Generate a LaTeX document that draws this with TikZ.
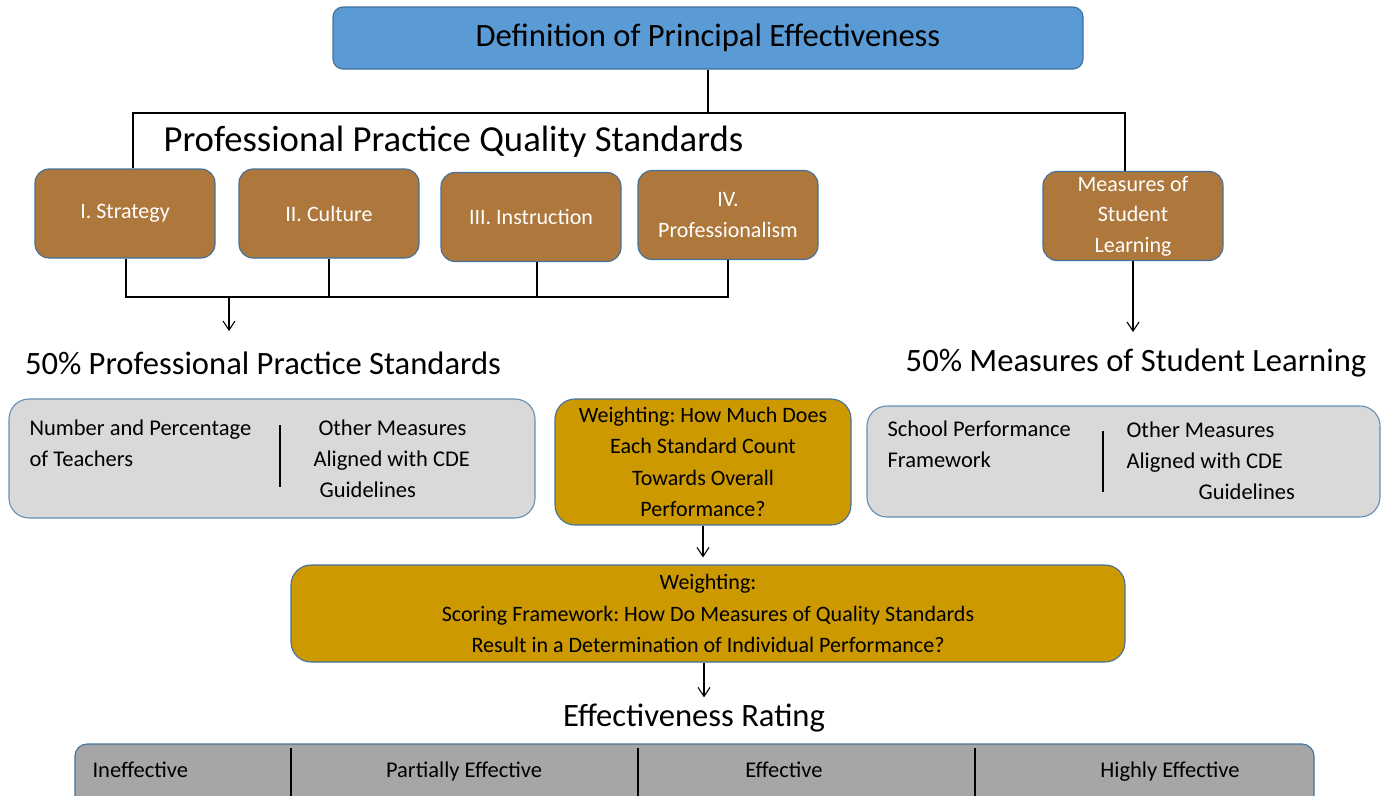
\documentclass[tikz,border=0pt]{standalone}
\usepackage{fontspec}
\setmainfont{Carlito}
\usetikzlibrary{positioning,arrows.meta}
\definecolor{titleblue}{RGB}{91,155,213}
\definecolor{edgeblue}{RGB}{65,113,156}
\definecolor{stdbrown}{RGB}{174,120,61}
\definecolor{weightgold}{RGB}{204,153,0}
\definecolor{panelgray}{RGB}{217,217,217}
\definecolor{rategray}{RGB}{166,166,166}
\frenchspacing
\tikzset{
		>={Straight Barb[length=9pt,width=12pt]},
			titlebox/.style={rectangle, rounded corners=10pt, fill=titleblue,
				draw=edgeblue, minimum width=750pt, minimum height=62pt,
				font=\fontsize{32.6}{38}\selectfont},
			stdbox/.style={rectangle, rounded corners=14pt, fill=stdbrown,
				draw=edgeblue, minimum width=180pt, minimum height=89pt,
				text=white, align=center, inner sep=0pt,
				font=\fontsize{22}{30.5}\selectfont},
			panel/.style={rectangle, rounded corners=20pt, fill=panelgray,
				draw=edgeblue!80},
			goldbox/.style={rectangle, rounded corners=20pt, fill=weightgold,
				draw=edgeblue, align=center, inner sep=0pt,
				font=\fontsize{22}{31.5}\selectfont},
			ratebox/.style={rectangle, rounded corners=12pt, fill=rategray,
				draw=edgeblue},
			heading/.style={inner sep=0pt, font=\fontsize{32.6}{38}\selectfont},
			boxtext/.style={inner sep=0pt, align=left,
				font=\fontsize{22.5}{31}\selectfont},
		}
\begin{document}
\begin{tikzpicture}
				[x=1pt, y=-1pt, line width=1.1pt]
				\clip (0,0) rectangle (1388,795);

				% top of the tree
				\node[titlebox] (title) at (708,38) {Definition of Principal Effectiveness};
				\node[heading, anchor=west, font=\fontsize{36.7}{42}\selectfont] (ppqs) at (163,142) {Professional Practice Quality Standards};

				\node[stdbox] (strategy)    at (125,213.5) {I. Strategy};
				\node[stdbox] (culture)     at (329,213.5) {II. Culture};
				\node[stdbox] (instruction) at (531,217)   {III. Instruction};
				\node[stdbox] (profess)     at (728,215)   {IV.\\Professionalism};
				\node[stdbox] (learning)    at (1133,216)  {Measures of\\Student\\Learning};

				\coordinate (busL) at (133,113);
				\coordinate (busR) at (1125,113);
				\draw (title.south) -- (title.south |- busL);
				\draw (strategy.north -| busL) |- (busR) -- (learning.north -| busR);

				\coordinate (joinL) at (126,297);
				\coordinate (joinI) at (537,297);
				\coordinate (joinR) at (728,297);
				\coordinate (drop)  at (229,297);
				\coordinate (dropEnd) at (229,331);
				\coordinate (slEnd) at (1133,332);
				\draw (strategy.south -| joinL) |- (joinR) -- (profess.south);
				\draw (culture.south) -- (culture.south |- joinL);
				\draw (instruction.south -| joinI) -- (joinI);
				\draw[->] (drop) -- (dropEnd);
				\draw[->] (learning.south) -- (slEnd);

				\node[heading] (ppsHead) at (263,363)  {50\% Professional Practice Standards};
				\node[heading] (mslHead) at (1136,363) {50\% Measures of Student Learning};

				% middle row
				\node[panel, minimum width=526pt, minimum height=119pt] (ppsPanel) at (272,458.5) {};
				\node[boxtext, anchor=west] (teachers) at (29,443) {Number and Percentage\\of Teachers};
				\node[boxtext, anchor=west] (otherL) at (313,459) {\hspace{5pt}Other Measures\\Aligned with CDE\\\hspace{6pt}Guidelines};
				\draw (280,425) -- (280,487);

				\node[goldbox, minimum width=296pt, minimum height=126pt] (weighting) at (703,462)
					{Weighting: How Much Does\\Each Standard Count\\Towards Overall\\Performance?};

				\node[panel, minimum width=513pt, minimum height=111pt] (mslPanel) at (1123.5,461.5) {};
				\node[boxtext, anchor=west] (school) at (887,444) {School Performance\\Framework};
				\node[boxtext, anchor=west] (otherR) at (1126,461) {Other Measures\\Aligned with CDE\\\hspace{72pt}Guidelines};
				\draw (1103,431) -- (1103,492);

				\node[goldbox, minimum width=834pt, minimum height=97pt] (scoring) at (708,613.5)
					{Weighting:\\Scoring Framework: How Do Measures of Quality Standards\\Result in a Determination of Individual Performance?};
				\draw[->, shorten >=7pt] (weighting.south) -- (weighting.south |- scoring.north);

				% rating scale
				\node[heading] (rating) at (694,718) {Effectiveness Rating};
				\draw[->, shorten >=6pt] (scoring.south -| 704,0) -- (rating.north -| 704,0);

				\node[ratebox, minimum width=1239pt, minimum height=80pt] (scale) at (694.5,784) {};
				\foreach \x in {291,638,975}
					\draw (\x,748) -- (\x,800);
				\node[boxtext, anchor=base west] (ineff) at (92,777) {Ineffective};
				\node[boxtext, anchor=base] (partial) at (464,777)  {Partially Effective};
				\node[boxtext, anchor=base] (eff)     at (784,777)  {Effective};
				\node[boxtext, anchor=base] (highly)  at (1170,777) {Highly Effective};

			\end{tikzpicture}
\end{document}
